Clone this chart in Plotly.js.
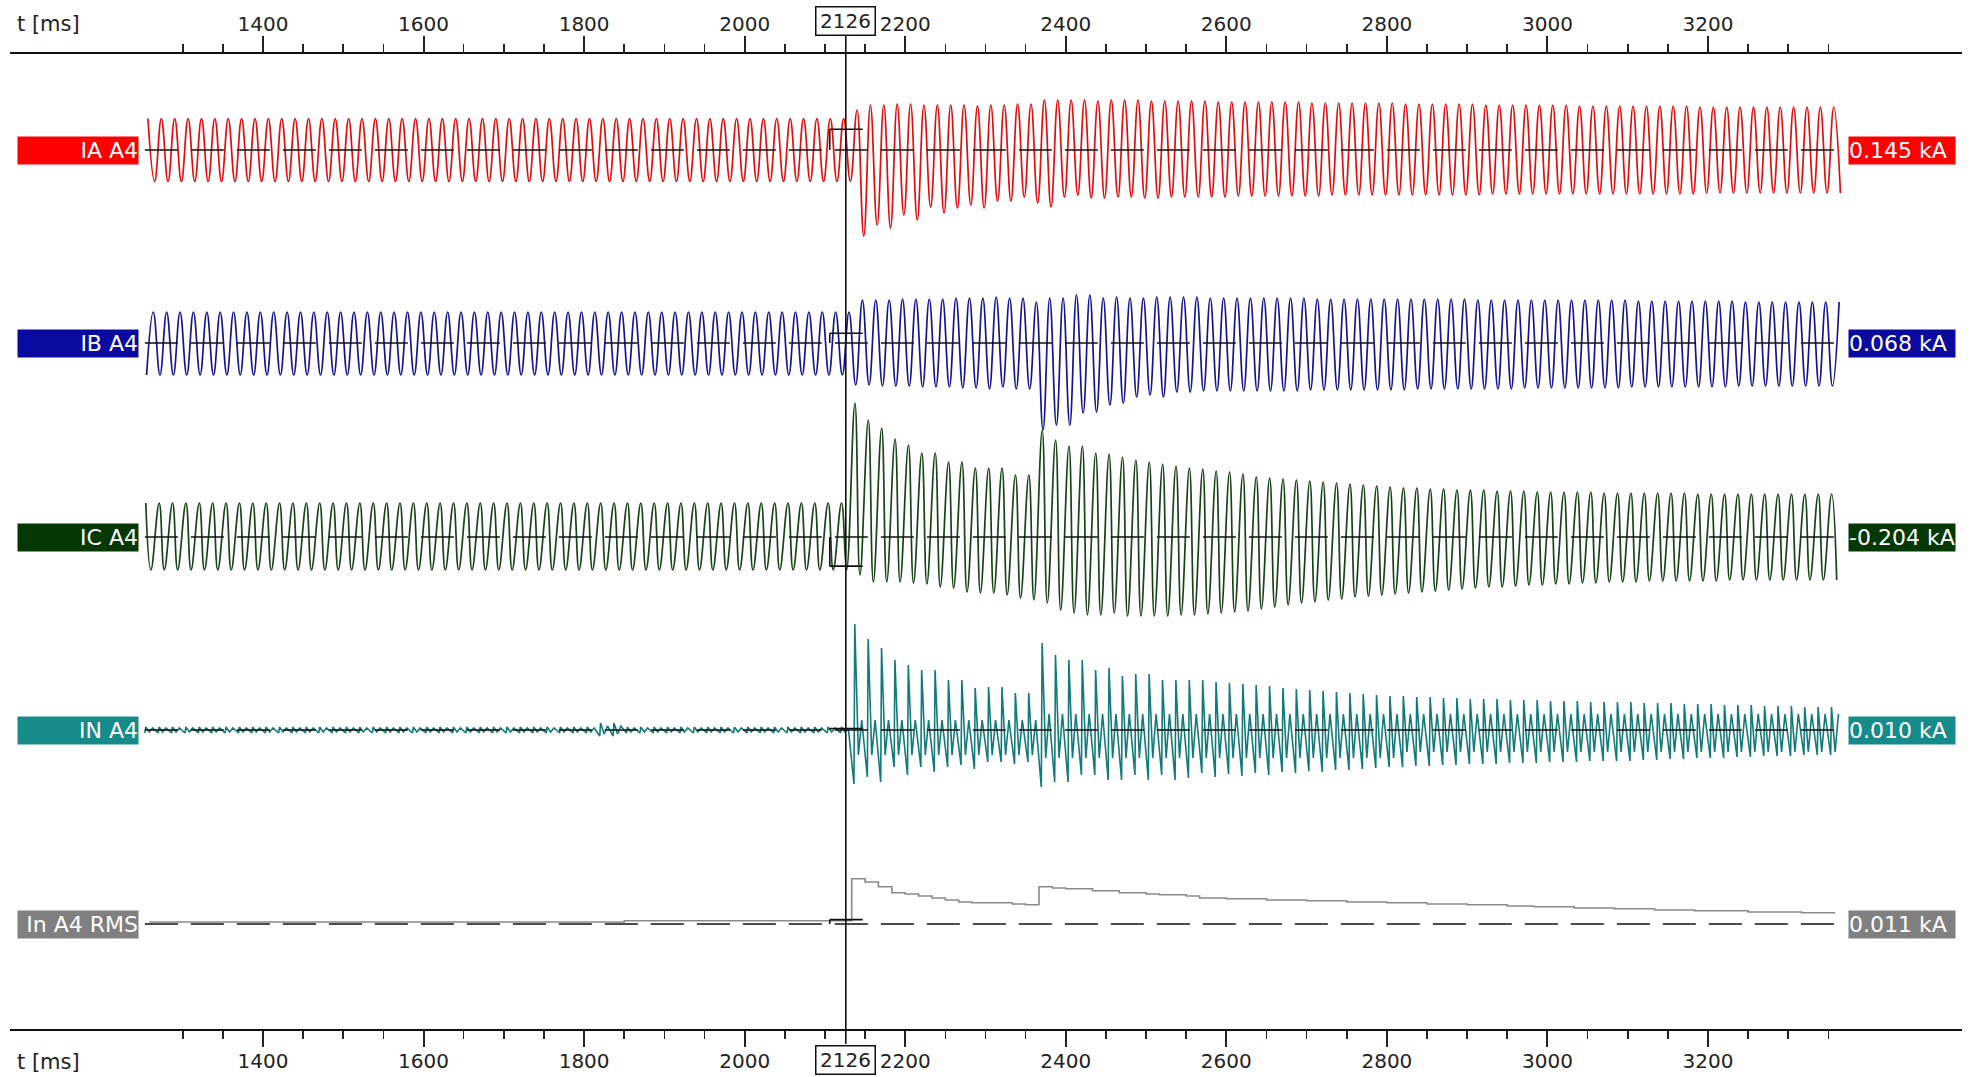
<!DOCTYPE html>
<html><head><meta charset="utf-8">
<script src="https://cdn.plot.ly/plotly-3.0.1.min.js"></script>
<style>html,body{margin:0;padding:0;background:#fff}#chart{width:1972px;height:1077px}</style>
</head><body><div id="chart"></div>
<script>
// ---------- DATA (per 60 Hz cycle, kA) ----------
const T0 = 1250;            // first recorded cycle start, ms
const P = 1000 / 60;        // cycle length, ms
const cursorT = 2126;

const channelNames = ["IA A4", "IB A4", "IC A4", "IN A4", "In A4 RMS"];
const cursorValues = [0.145, 0.068, -0.204, 0.010, 0.011];
const cursorLabels = ["0.145 kA", "0.068 kA", "-0.204 kA", "0.010 kA", "0.011 kA"];
const majorTicks = [1400,1600,1800,2000,2200,2400,2600,2800,3000,3200];
const minorTicks = [1300,1350,1450,1500,1550,1650,1700,1750,1850,1900,1950,2050,2100,2150,2250,2300,2350,2450,2500,2550,2650,2700,2750,2850,2900,2950,3050,3100,3150,3250,3300,3350];

const iaMax = [
0.22,0.22,0.22,0.22,0.22,0.22,0.22,0.22,0.22,0.22,
0.22,0.22,0.22,0.22,0.22,0.22,0.22,0.22,0.22,0.22,
0.22,0.22,0.22,0.22,0.22,0.22,0.22,0.22,0.22,0.22,
0.22,0.22,0.22,0.22,0.22,0.22,0.22,0.22,0.22,0.22,
0.22,0.22,0.22,0.22,0.22,0.22,0.22,0.22,0.22,0.22,
0.22,0.22,0.22,
0.280,0.315,0.315,0.322,0.322,0.315,0.315,0.315,0.315,0.308,
0.315,0.315,0.322,0.322,0.350,0.350,0.350,0.350,0.343,0.350,
0.350,0.350,0.343,0.343,0.343,0.343,0.343,0.336,0.336,0.336,
0.336,0.336,0.336,0.336,0.329,0.329,0.329,0.329,0.329,0.329,
0.329,0.322,0.322,0.322,0.322,0.322,0.322,0.315,0.315,0.315,
0.315,0.315,0.315,0.315,0.308,0.308,0.308,0.308,0.308,0.308,
0.308,0.308,0.308,0.301,0.301,0.301,0.301,0.301,0.301,0.301,
0.301,0.301,0.301,0.301];
const iaMin = [
-0.22,-0.22,-0.22,-0.22,-0.22,-0.22,-0.22,-0.22,-0.22,-0.22,
-0.22,-0.22,-0.22,-0.22,-0.22,-0.22,-0.22,-0.22,-0.22,-0.22,
-0.22,-0.22,-0.22,-0.22,-0.22,-0.22,-0.22,-0.22,-0.22,-0.22,
-0.22,-0.22,-0.22,-0.22,-0.22,-0.22,-0.22,-0.22,-0.22,-0.22,
-0.22,-0.22,-0.22,-0.22,-0.22,-0.22,-0.22,-0.22,-0.22,-0.22,
-0.22,-0.22,-0.22,
-0.602,-0.525,-0.546,-0.455,-0.490,-0.399,-0.441,-0.406,-0.385,-0.406,
-0.357,-0.357,-0.329,-0.371,-0.399,-0.329,-0.315,-0.336,-0.336,-0.329,
-0.329,-0.336,-0.336,-0.329,-0.329,-0.329,-0.329,-0.329,-0.322,-0.322,
-0.322,-0.322,-0.322,-0.322,-0.322,-0.315,-0.315,-0.315,-0.315,-0.315,
-0.315,-0.315,-0.315,-0.315,-0.315,-0.315,-0.315,-0.308,-0.308,-0.308,
-0.308,-0.308,-0.308,-0.308,-0.308,-0.308,-0.308,-0.308,-0.308,-0.308,
-0.308,-0.308,-0.308,-0.301,-0.301,-0.301,-0.301,-0.301,-0.301,-0.301,
-0.301,-0.301,-0.301,-0.301];

const ibMax = [
0.217,0.217,0.217,0.217,0.217,0.217,0.217,0.217,0.217,0.217,
0.217,0.217,0.217,0.217,0.217,0.217,0.217,0.217,0.217,0.217,
0.217,0.217,0.217,0.217,0.217,0.217,0.217,0.217,0.217,0.217,
0.217,0.217,0.217,0.217,0.217,0.217,0.217,0.217,0.217,0.217,
0.217,0.217,0.217,0.217,0.217,0.217,0.217,0.217,0.217,0.217,
0.217,0.217,0.217,
0.301,0.301,0.301,0.308,0.308,0.308,0.308,0.315,0.315,0.315,
0.322,0.315,0.315,0.287,0.315,0.315,0.336,0.336,0.315,0.322,
0.315,0.315,0.322,0.322,0.322,0.322,
0.315,0.315,0.315,0.315,0.315,0.315,0.315,0.315,
0.308,0.308,0.308,0.308,0.308,0.308,0.308,0.308,0.308,0.308,0.308,0.308,
0.301,0.301,0.301,0.301,0.301,0.301,0.301,0.301,0.301,0.301,0.301,0.301,
0.294,0.294,0.294,0.294,0.294,0.294,0.294,0.294,
0.287,0.287,0.287,0.287,0.287,0.287,0.287,0.287];
const ibMin = [
-0.224,-0.224,-0.224,-0.224,-0.224,-0.224,-0.224,-0.224,-0.224,-0.224,
-0.224,-0.224,-0.224,-0.224,-0.224,-0.224,-0.224,-0.224,-0.224,-0.224,
-0.224,-0.224,-0.224,-0.224,-0.224,-0.224,-0.224,-0.224,-0.224,-0.224,
-0.224,-0.224,-0.224,-0.224,-0.224,-0.224,-0.224,-0.224,-0.224,-0.224,
-0.224,-0.224,-0.224,-0.224,-0.224,-0.224,-0.224,-0.224,-0.224,-0.224,
-0.224,-0.224,-0.224,
-0.294,-0.294,-0.301,-0.301,-0.301,-0.308,-0.308,-0.308,-0.315,-0.315,
-0.322,-0.308,-0.322,-0.322,-0.609,-0.574,-0.574,-0.490,-0.483,-0.434,
-0.420,-0.378,-0.364,-0.378,-0.343,-0.343,
-0.336,-0.336,-0.336,-0.336,-0.336,-0.336,-0.336,-0.336,
-0.329,-0.329,-0.329,-0.329,-0.329,-0.329,-0.329,-0.329,
-0.322,-0.322,-0.322,-0.322,-0.322,-0.322,-0.322,-0.322,
-0.315,-0.315,-0.315,-0.315,-0.315,-0.315,-0.315,-0.315,
-0.308,-0.308,-0.308,-0.308,-0.308,-0.308,-0.308,-0.308,
-0.301,-0.301,-0.301,-0.301,-0.301,-0.301,-0.301,-0.301];

const icMax = [
0.238,0.238,0.238,0.238,0.238,0.238,0.238,0.238,0.238,0.238,
0.238,0.238,0.238,0.238,0.238,0.238,0.238,0.238,0.238,0.238,
0.238,0.238,0.238,0.238,0.238,0.238,0.238,0.238,0.238,0.238,
0.238,0.238,0.238,0.238,0.238,0.238,0.238,0.238,0.238,0.238,
0.238,0.238,0.238,0.238,0.238,0.238,0.238,0.238,0.238,0.238,
0.238,0.238,0.238,
0.938,0.819,0.763,0.686,0.644,0.588,0.588,0.525,0.525,0.483,
0.483,0.483,0.434,0.434,0.749,0.679,0.637,0.637,0.588,0.581,
0.560,0.539,0.525,0.511,0.497,0.483,0.476,0.462,0.455,0.441,
0.420,0.413,0.406,0.399,0.392,0.385,0.378,0.371,0.364,0.357,
0.350,0.343,0.343,0.336,0.336,0.329,0.329,0.329,0.322,0.322,
0.322,0.315,0.315,0.315,0.315,0.315,0.308,0.308,0.308,0.308,
0.308,0.308,0.308,0.301,0.301,0.301,0.301,0.301,0.301,0.301,
0.301,0.301,0.301,0.301];
const icMin = [
-0.231,-0.231,-0.231,-0.231,-0.231,-0.231,-0.231,-0.231,-0.231,-0.231,
-0.231,-0.231,-0.231,-0.231,-0.231,-0.231,-0.231,-0.231,-0.231,-0.231,
-0.231,-0.231,-0.231,-0.231,-0.231,-0.231,-0.231,-0.231,-0.231,-0.231,
-0.231,-0.231,-0.231,-0.231,-0.231,-0.231,-0.231,-0.231,-0.231,-0.231,
-0.231,-0.231,-0.231,-0.231,-0.231,-0.231,-0.231,-0.231,-0.231,-0.231,
-0.231,-0.231,-0.231,
-0.266,-0.315,-0.315,-0.315,-0.322,-0.329,-0.350,-0.357,-0.385,-0.392,
-0.392,-0.406,-0.427,-0.441,-0.462,-0.511,-0.532,-0.546,-0.546,-0.532,
-0.553,-0.553,-0.553,-0.553,-0.546,-0.546,-0.539,-0.532,-0.525,-0.518,
-0.504,-0.490,-0.476,-0.462,-0.455,-0.441,-0.434,-0.420,-0.413,-0.406,
-0.399,-0.392,-0.385,-0.378,-0.371,-0.364,-0.357,-0.350,-0.350,-0.343,
-0.336,-0.336,-0.329,-0.329,-0.322,-0.322,-0.315,-0.315,-0.315,-0.308,
-0.308,-0.308,-0.308,-0.308,-0.308,-0.301,-0.301,-0.301,-0.301,-0.301,
-0.301,-0.301,-0.301,-0.301];

const inMax = [
0.021,0.021,0.021,0.021,0.021,0.021,0.021,0.021,0.021,0.021,
0.021,0.021,0.021,0.021,0.021,0.021,0.021,0.021,0.021,0.021,
0.021,0.021,0.021,0.021,0.021,0.021,0.021,0.021,0.021,0.021,
0.021,0.021,0.021,0.021,0.049,0.049,0.021,0.021,0.021,0.021,
0.021,0.021,0.021,0.021,0.021,0.021,0.021,0.021,0.021,0.021,
0.021,0.021,0.021,
0.742,0.637,0.574,0.490,0.455,0.420,0.420,0.350,0.350,0.294,
0.301,0.301,0.259,0.259,0.609,0.525,0.490,0.490,0.420,0.434,
0.378,0.392,0.392,0.350,0.350,0.350,0.350,
0.336,0.329,0.322,0.315,0.308,0.294,0.287,0.280,0.273,0.266,0.259,0.252,0.245,
0.238,0.238,0.231,0.231,0.224,0.224,0.217,0.217,0.217,0.210,0.210,0.210,0.203,0.203,0.203,0.196,0.196,0.196,0.196,
0.189,0.189,0.189,0.182,0.182,0.182,0.175,0.175,0.175,0.168,0.168,0.168,0.161,0.161,0.161];
const inMin = [
-0.021,-0.021,-0.021,-0.021,-0.021,-0.021,-0.021,-0.021,-0.021,-0.021,
-0.021,-0.021,-0.021,-0.021,-0.021,-0.021,-0.021,-0.021,-0.021,-0.021,
-0.021,-0.021,-0.021,-0.021,-0.021,-0.021,-0.021,-0.021,-0.021,-0.021,
-0.021,-0.021,-0.021,-0.021,-0.042,-0.042,-0.021,-0.021,-0.021,-0.021,
-0.021,-0.021,-0.021,-0.021,-0.021,-0.021,-0.021,-0.021,-0.021,-0.021,
-0.021,-0.021,-0.021,
-0.378,-0.329,-0.364,-0.259,-0.315,-0.259,-0.294,-0.259,-0.245,-0.273,
-0.224,-0.224,-0.238,-0.224,-0.399,-0.364,-0.364,-0.315,-0.315,-0.350,
-0.350,-0.315,-0.350,-0.315,-0.350,-0.336,-0.301,
-0.329,-0.308,-0.322,-0.301,-0.315,-0.294,-0.301,-0.287,-0.294,-0.280,-0.280,-0.273,-0.266,
-0.259,-0.259,-0.252,-0.252,-0.245,-0.245,-0.238,-0.238,-0.238,-0.231,-0.231,-0.231,-0.224,-0.224,-0.224,-0.217,-0.217,-0.217,-0.217,
-0.210,-0.210,-0.203,-0.203,-0.196,-0.196,-0.196,-0.189,-0.189,-0.182,-0.182,-0.182,-0.175,-0.175,-0.175];
const inBandHi = [
0.014,0.014,0.014,0.014,0.014,0.014,0.014,0.014,0.014,0.014,
0.014,0.014,0.014,0.014,0.014,0.014,0.014,0.014,0.014,0.014,
0.014,0.014,0.014,0.014,0.014,0.014,0.014,0.014,0.014,0.014,
0.014,0.014,0.014,0.014,0.028,0.028,0.014,0.014,0.014,0.014,
0.014,0.014,0.014,0.014,0.014,0.014,0.014,0.014,0.014,0.014,
0.014,0.014,0.014,
0.070,0.070,0.070,0.070,0.070,0.070,0.070,0.070,0.070,0.070,0.070,0.070,0.070,0.070,
0.112,0.112,0.112,0.112,0.112,0.112,0.112,0.112,0.112,0.112,
0.112,0.112,0.112,0.112,0.112,0.112,0.112,0.112,0.112,0.112,
0.112,0.112,0.112,0.112,0.112,0.112,0.112,0.112,0.112,0.112,
0.112,0.112,0.112,0.112,0.112,0.112,0.112,0.112,0.112,0.112,
0.112,0.112,0.112,0.112,0.112,0.112,0.112,0.112,0.112,0.112,
0.112,0.112,0.112,0.112,0.112,0.112,0.112,0.112,0.112,0.112];
const inBandLo = [
-0.014,-0.014,-0.014,-0.014,-0.014,-0.014,-0.014,-0.014,-0.014,-0.014,
-0.014,-0.014,-0.014,-0.014,-0.014,-0.014,-0.014,-0.014,-0.014,-0.014,
-0.014,-0.014,-0.014,-0.014,-0.014,-0.014,-0.014,-0.014,-0.014,-0.014,
-0.014,-0.014,-0.014,-0.014,-0.028,-0.028,-0.014,-0.014,-0.014,-0.014,
-0.014,-0.014,-0.014,-0.014,-0.014,-0.014,-0.014,-0.014,-0.014,-0.014,
-0.014,-0.014,-0.014,
-0.175,-0.175,-0.175,-0.175,-0.175,-0.175,-0.175,-0.175,-0.175,-0.175,-0.175,-0.175,-0.175,-0.175,
-0.196,-0.196,-0.196,-0.196,-0.196,-0.196,-0.196,-0.196,-0.196,-0.196,
-0.196,-0.196,-0.196,-0.196,-0.196,-0.196,-0.196,-0.196,-0.196,-0.196,
-0.196,-0.196,-0.196,-0.196,-0.196,-0.196,-0.196,
-0.154,-0.154,-0.154,-0.154,-0.154,-0.154,-0.154,-0.154,-0.154,-0.154,
-0.154,-0.154,-0.154,-0.154,-0.154,-0.154,-0.154,-0.154,-0.154,-0.154,
-0.154,-0.154,-0.154,-0.154,-0.154,-0.154,-0.154,-0.154,-0.154,-0.154,
-0.154,-0.154,-0.154];

const inRms = [
0.005,0.005,0.005,0.005,0.005,0.005,0.005,0.005,0.005,0.005,
0.005,0.005,0.005,0.005,0.005,0.005,0.005,0.005,0.005,0.005,
0.005,0.005,0.005,0.005,0.005,0.005,0.005,0.005,0.005,0.005,
0.005,0.005,0.005,0.005,0.005,0.005,0.008,0.008,0.008,0.008,
0.008,0.008,0.008,0.008,0.008,0.008,0.008,0.008,0.008,0.008,
0.008,0.008,0.008,
0.113,0.105,0.093,0.078,0.075,0.070,0.065,0.060,0.055,0.053,
0.053,0.053,0.050,0.048,0.093,0.090,0.088,0.088,0.083,0.083,
0.078,0.078,0.075,0.073,0.073,0.070,0.065,0.065,0.063,0.063,
0.063,0.060,0.060,0.060,0.058,0.058,0.058,0.055,0.055,0.055,
0.053,0.053,0.053,0.050,0.050,0.050,0.048,0.048,0.048,0.045,
0.045,0.043,0.043,0.043,0.040,0.040,0.040,0.038,0.038,0.038,
0.035,0.035,0.035,0.033,0.033,0.033,0.033,0.030,0.030,0.030,
0.030,0.028,0.028,0.028];

// ---------- STYLE / LAYOUT ----------
const W = 1972, H = 1077;
const M = {l: 10, r: 10, t: 54, b: 48};
const plotTop = M.t, plotBot = H - M.b, plotH = plotBot - plotTop, plotW = W - M.l - M.r;
const pxPerMs = 0.80277;
const xRange = [1400 - (263 - M.l) / pxPerMs, 1400 + (W - M.r - 263) / pxPerMs];
const centers = [150, 343, 537, 730, 924];
const scales = [0.007, 0.007, 0.007, 0.007, 0.0025]; // kA per pixel
const traceColors = ["#e30c0c", "#14148f", "#174217", "#127a7a", "#8a8a8a"];
const boxColors = ["#ff0000", "#0a0aa0", "#053805", "#178a8a", "#808080"];
const FONT = "DejaVu Sans, Arial, sans-serif";

function tt(k, f) { return T0 + (k + f) * P; }

const series = [];
// IA
(function(){ const x=[],y=[]; iaMax.forEach((v,k)=>{ x.push(tt(k,0.40)); y.push(v); x.push(tt(k,0.90)); y.push(iaMin[k]); }); series.push({x,y,shape:'spline',w:1.7}); })();
// IB
(function(){ const x=[],y=[]; ibMin.forEach((v,k)=>{ x.push(tt(k,0.30)); y.push(v); x.push(tt(k,0.80)); y.push(ibMax[k]); }); series.push({x,y,shape:'spline',w:1.7}); })();
// IC
(function(){ const x=[],y=[]; icMax.forEach((v,k)=>{ x.push(tt(k,0.24)); y.push(v); x.push(tt(k,0.62)); y.push(icMin[k]); }); series.push({x,y,shape:'spline',w:1.7}); })();
// IN
(function(){ const x=[],y=[]; inMax.forEach((v,k)=>{ x.push(tt(k,0.17)); y.push(inMin[k]); x.push(tt(k,0.23)); y.push(v); x.push(tt(k,0.50)); y.push(inBandLo[k]); x.push(tt(k,0.75)); y.push(inBandHi[k]); }); series.push({x,y,shape:'linear',w:1.6}); })();
// RMS
(function(){ const x=[],y=[]; inRms.forEach((v,k)=>{ x.push(tt(k,0.5)); y.push(v); }); series.push({x,y,shape:'hvh',w:1.6}); })();

let tMin = Infinity, tMax = -Infinity;
series.forEach(s => { tMin = Math.min(tMin, s.x[0]); tMax = Math.max(tMax, s.x[s.x.length-1]); });

const yName = i => i === 0 ? 'y' : 'y' + (i + 1);
const yKey = i => i === 0 ? 'yaxis' : 'yaxis' + (i + 1);

const data = [];
series.forEach((s, i) => {
  data.push({x: s.x, y: s.y, type: 'scatter', mode: 'lines', yaxis: yName(i),
    line: {color: traceColors[i], width: s.w, shape: s.shape, smoothing: 1.2},
    hoverinfo: 'skip', showlegend: false});
});
series.forEach((s, i) => {
  data.push({x: [tMin, tMax], y: [0, 0], type: 'scatter', mode: 'lines', yaxis: yName(i),
    line: {color: '#111', width: 1.6, dash: '33px,13px'}, hoverinfo: 'skip', showlegend: false});
});
// anchor trace for the top axis
data.push({x: [tMin], y: [0], xaxis: 'x2', yaxis: 'y', type: 'scatter', mode: 'markers',
  marker: {opacity: 0}, hoverinfo: 'skip', showlegend: false});

const axisCommon = {
  range: xRange, showgrid: false, zeroline: false, showline: true, linecolor: '#111', linewidth: 1.6,
  tickmode: 'array', tickvals: majorTicks, ticktext: majorTicks.map(String),
  ticks: 'outside', ticklen: 16, tickwidth: 2, tickcolor: '#222', ticklabelstandoff: -3,
  minor: {tickmode: 'array', tickvals: minorTicks, ticks: 'outside', ticklen: 8, tickwidth: 1.6, tickcolor: '#222'},
  tickfont: {family: FONT, size: 20, color: '#222'}, fixedrange: true
};

const layout = {
  width: W, height: H, margin: M, paper_bgcolor: '#fff', plot_bgcolor: '#fff',
  showlegend: false, hovermode: false,
  xaxis: Object.assign({}, axisCommon, {side: 'bottom', anchor: 'y'}),
  xaxis2: Object.assign({}, axisCommon, {side: 'top', overlaying: 'x', anchor: 'y'}),
  shapes: [], annotations: []
};
centers.forEach((c, i) => {
  const s = scales[i];
  const ax = {range: [-(plotBot - c) * s, (c - plotTop) * s], visible: false, fixedrange: true, domain: [0, 1]};
  if (i > 0) ax.overlaying = 'y';
  layout[yKey(i)] = ax;
});

const py = p => (plotBot - p) / plotH;   // pixel y -> paper y
const px = p => (p - M.l) / plotW;       // pixel x -> paper x

// cursor line
layout.shapes.push({type: 'line', xref: 'x', yref: 'paper', x0: cursorT, x1: cursorT, y0: py(1044), y1: py(36),
  line: {color: '#111', width: 1.6}});
// cursor value markers
cursorValues.forEach((v, i) => {
  layout.shapes.push({type: 'line', xref: 'x', yref: yName(i), x0: cursorT - 20, x1: cursorT + 21, y0: v, y1: v, line: {color: '#111', width: 1.6}});
  layout.shapes.push({type: 'line', xref: 'x', yref: yName(i), x0: cursorT - 20, x1: cursorT - 20, y0: 0, y1: v, line: {color: '#111', width: 1.6}});
});

// axis titles
[24, 1062].forEach(yy => layout.annotations.push({xref: 'paper', yref: 'paper', x: px(15), y: py(yy),
  xanchor: 'left', yanchor: 'middle', showarrow: false, text: 't [ms]', font: {family: FONT, size: 21, color: '#222'}}));
// cursor boxes
[21.5, 1059.5].forEach(yy => layout.annotations.push({xref: 'x', yref: 'paper', x: cursorT, y: py(yy),
  xanchor: 'center', yanchor: 'middle', showarrow: false, text: String(cursorT), width: 56, height: 25,
  borderpad: 1, borderwidth: 1.5, bordercolor: '#111', bgcolor: '#fff', font: {family: FONT, size: 20, color: '#222'}}));
// channel labels
channelNames.forEach((n, i) => {
  layout.annotations.push({xref: 'paper', yref: yName(i), x: px(17), y: 0, xanchor: 'left', yanchor: 'middle',
    showarrow: false, text: n, width: 120, height: 27, align: 'right', bgcolor: boxColors[i], borderpad: 0,
    font: {family: FONT, size: 22, color: '#fff'}});
  layout.annotations.push({xref: 'paper', yref: yName(i), x: px(1848), y: 0, xanchor: 'left', yanchor: 'middle',
    showarrow: false, text: cursorLabels[i], width: 106, height: 27, align: 'left', bgcolor: boxColors[i], borderpad: 0,
    font: {family: FONT, size: 22, color: '#fff'}});
});

Plotly.newPlot('chart', data, layout, {staticPlot: true, displayModeBar: false});
</script></body></html>
